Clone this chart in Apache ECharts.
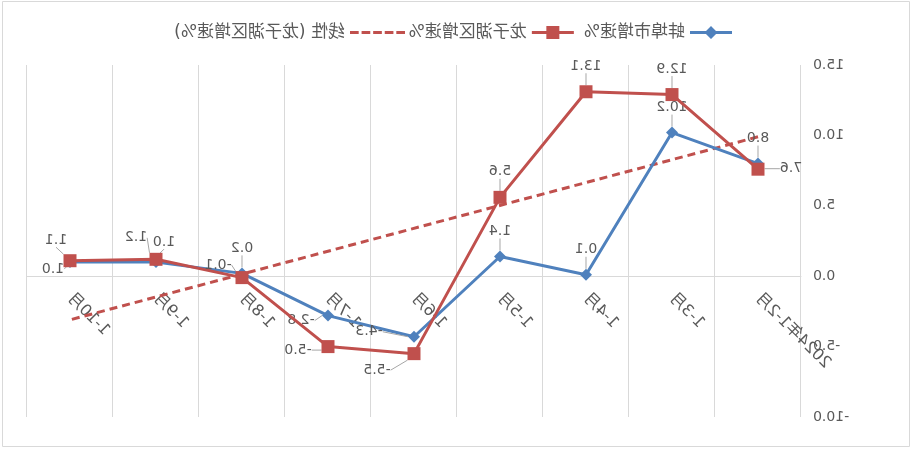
<!DOCTYPE html>
<html>
<head>
<meta charset="utf-8">
<script src="https://cdn.jsdelivr.net/npm/echarts@6/dist/echarts.min.js"></script>
<style>
  html, body { margin: 0; padding: 0; background: #fff; }
  /* the reference picture is a mirror image, so the whole chart is flipped */
  #main { width: 912px; height: 449px; transform: scaleX(-1); }
</style>
</head>
<body>
<div id="main"></div>
<script>
var categories = ['2024年1-2月', '1-3月', '1-4月', '1-5月', '1-6月', '1-7月', '1-8月', '1-9月', '1-10月'];
var bengbu = [8.0, 10.2, 0.1, 1.4, -4.3, -2.8, 0.2, 1.0, 1.0];
var longzihu = [7.6, 12.9, 13.1, 5.6, -5.5, -5.0, -0.1, 1.2, 1.1];
// trend line, read at both ends only
var trend = [9.9, null, null, null, null, null, null, null, -3.1];
var yTicks = [-10, -5, 0, 5, 10, 15];

// label nudges (dx, dy) from the default 'top' spot
var blueNudge = [[0,0],[0,0],[0,0],[0,0],[45,20],[27,30],[0,0],[-8,5],[17,32]];
var redNudge = [[-33,25],[0,0],[0,0],[0,0],[37,42],[30,29],[24,13],[20,4],[14,5]];

var myChart = echarts.init(document.getElementById('main'));
var textColor = '#595959';
var blue = '#4f81bd', red = '#c0504d';
var font = 'DejaVu Sans, Noto Sans CJK SC, sans-serif';

function nudge(arr) {
  return function (p) {
    var d = arr[p.dataIndex] || [0, 0];
    return { dx: d[0], dy: d[1] };
  };
}

// legend icons: line with marker, and a dashed line
var blueIcon = 'path://M0,5h42v3h-42z M21,0l6.5,6.5l-6.5,6.5l-6.5,-6.5z';
var redIcon = 'path://M0,5h42v3h-42z M14.5,0h13v13h-13z';
var dashIcon = 'path://M0,0h9v3h-9z M12,0h9v3h-9z M24,0h9v3h-9z M36,0h9v3h-9z M48,0h9v3h-9z';

function fmt(p) { return p.value.toFixed(1); }

var option = {
  animation: false,
  textStyle: { fontFamily: font },
  graphic: [{
    type: 'rect',
    shape: { x: 2.5, y: 1.5, width: 907, height: 445 },
    style: { fill: 'none', stroke: '#d9d9d9', lineWidth: 1 },
    silent: true
  }],
  legend: [{
    top: 19,
    left: 175,
    itemWidth: 42,
    itemHeight: 16,
    itemGap: 10,
    textStyle: { color: textColor, fontSize: 17 },
    data: [
      { name: '蚌埠市增速%', icon: blueIcon },
      { name: '龙子湖区增速%', icon: redIcon }
    ]
  }, {
    top: 19,
    left: 502,
    itemWidth: 55,
    itemHeight: 16,
    textStyle: { color: textColor, fontSize: 17 },
    data: [{ name: '线性 (龙子湖区增速%)', icon: dashIcon }]
  }],
  grid: { left: 111, right: 27, top: 65, bottom: 32, outerBoundsMode: 'none' },
  xAxis: {
    type: 'category',
    data: categories,
    boundaryGap: true,
    offset: -141,
    axisLine: { onZero: false, lineStyle: { color: '#d9d9d9', width: 1 } },
    axisTick: { show: false },
    splitLine: { show: true, lineStyle: { color: '#d9d9d9', width: 1 } },
    axisLabel: { rotate: 45, margin: 20, color: textColor, fontSize: 16, interval: 0 }
  },
  yAxis: {
    type: 'value',
    min: yTicks[0],
    max: yTicks[yTicks.length - 1],
    interval: 5,
    axisLine: { show: false },
    axisTick: { show: false },
    splitLine: { show: false },
    axisLabel: {
      color: textColor, fontSize: 14, margin: 12,
      formatter: function (v) { return v.toFixed(1); }
    }
  },
  series: [{
    name: '蚌埠市增速%',
    type: 'line',
    data: bengbu,
    symbol: 'diamond',
    symbolSize: 12,
    itemStyle: { color: blue },
    lineStyle: { color: blue, width: 3 },
    label: { show: true, position: 'top', distance: 12, color: textColor, fontSize: 14, formatter: fmt },
    labelLine: { show: true, lineStyle: { color: '#a6a6a6', width: 1 } },
    labelLayout: nudge(blueNudge),
    z: 3
  }, {
    name: '龙子湖区增速%',
    type: 'line',
    data: longzihu,
    symbol: 'rect',
    symbolSize: 13,
    itemStyle: { color: red },
    lineStyle: { color: red, width: 3 },
    label: { show: true, position: 'top', distance: 12, color: textColor, fontSize: 14, formatter: fmt },
    labelLine: { show: true, lineStyle: { color: '#a6a6a6', width: 1 } },
    labelLayout: nudge(redNudge),
    z: 4
  }, {
    name: '线性 (龙子湖区增速%)',
    type: 'line',
    data: trend,
    connectNulls: true,
    symbol: 'none',
    itemStyle: { color: red },
    lineStyle: { color: red, width: 3, type: [8, 5] },
    z: 2
  }]
};
myChart.setOption(option);
</script>
</body>
</html>
